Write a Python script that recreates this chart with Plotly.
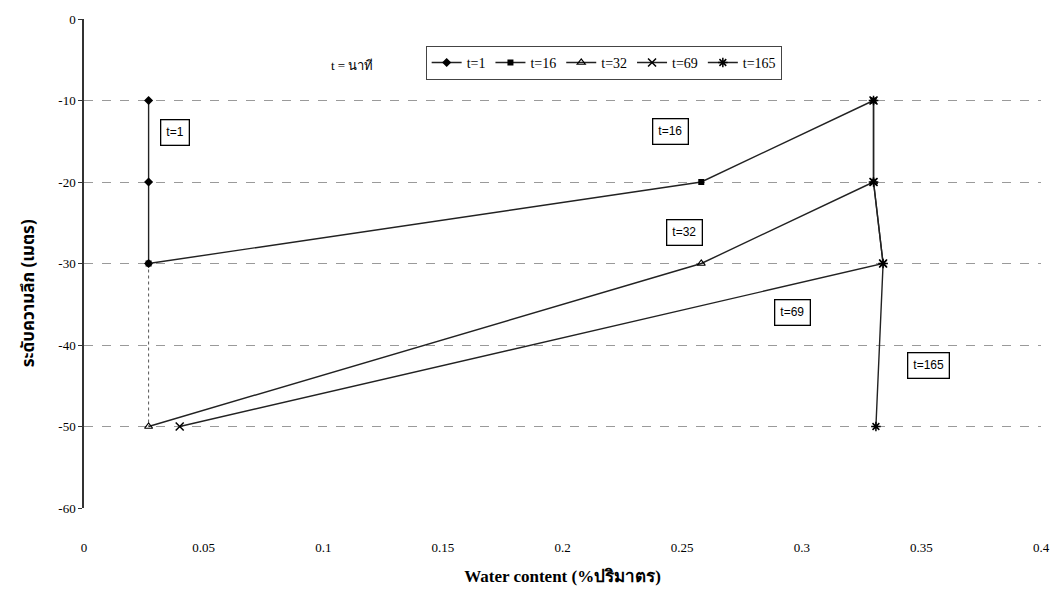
import plotly.graph_objects as go

# Depth profiles of water content at successive times (minutes)
depth_ticks = [0, -10, -20, -30, -40, -50, -60]
depth_labels = ["0", "-10", "-20", "-30", "-40", "-50", "-60"]
wc_ticks = [0, 0.05, 0.1, 0.15, 0.2, 0.25, 0.3, 0.35, 0.4]
wc_labels = ["0", "0.05", "0.1", "0.15", "0.2", "0.25", "0.3", "0.35", "0.4"]

t1_x = [0.027, 0.027, 0.027]
t1_y = [-10, -20, -30]
t16_x = [0.027, 0.258, 0.330]
t16_y = [-30, -20, -10]
t32_x = [0.027, 0.258, 0.330]
t32_y = [-50, -30, -20]
t69_x = [0.040, 0.334, 0.330, 0.330]
t69_y = [-50, -30, -20, -10]
t165_x = [0.330, 0.330, 0.334, 0.331]
t165_y = [-10, -20, -30, -50]
# faint connector below the t=1 profile
base_x = [0.027, 0.027]
base_y = [-30, -50]

serif = "Liberation Serif"
sans = "Liberation Sans"
thai = "Noto Sans Thai, Noto Serif Thai, Loma, Garuda, Noto Sans, DejaVu Sans"

fig = go.Figure()

fig.add_trace(go.Scatter(x=base_x, y=base_y, mode="lines", showlegend=False,
                         line=dict(color="#555555", width=1, dash="dot"), hoverinfo="skip"))

series = [
    ("t=1", t1_x, t1_y, dict(symbol="diamond", size=7, color="black")),
    ("t=16", t16_x, t16_y, dict(symbol="square", size=6, color="black")),
    ("t=32", t32_x, t32_y, dict(symbol="triangle-up-open", size=7, color="black",
                                line=dict(color="black", width=1.2))),
    ("t=69", t69_x, t69_y, dict(symbol="x-thin-open", size=8, color="black",
                                line=dict(color="black", width=1.5))),
    ("t=165", t165_x, t165_y, dict(symbol="asterisk-open", size=8, color="black",
                                   line=dict(color="black", width=1.5))),
]
for name, xs, ys, mk in series:
    fig.add_trace(go.Scatter(x=xs, y=ys, mode="lines+markers", name=name,
                             line=dict(color="#222222", width=1.4), marker=mk))

# boxed labels next to each profile
labels = [
    ("t=1", 0.038, -13.9),
    ("t=16", 0.245, -13.8),
    ("t=32", 0.251, -26.2),
    ("t=69", 0.296, -36.0),
    ("t=165", 0.353, -42.5),
]
for text, lx, ly in labels:
    fig.add_annotation(x=lx, y=ly, text=text, showarrow=False,
                       font=dict(family=sans, size=12, color="black"),
                       bordercolor="black", borderwidth=1.3, borderpad=5,
                       bgcolor="white")

fig.add_annotation(xref="paper", yref="paper", x=0.256, y=0.905, yanchor="middle",
                   text="t = นาที", showarrow=False,
                   font=dict(family=serif, size=13, color="black"))

# vertical axis title
fig.add_annotation(xref="paper", yref="paper", x=-0.058, y=0.44, textangle=-90,
                   xanchor="center", yanchor="middle",
                   text="<b>ระดับความลึก (เมตร)</b>", showarrow=False,
                   font=dict(family=thai, size=17, color="black"))

fig.update_layout(
    width=1062, height=598,
    margin=dict(l=84, r=17, t=14, b=90),
    plot_bgcolor="white", paper_bgcolor="white",
    showlegend=True,
    legend=dict(orientation="h", x=0.357, y=0.945, xanchor="left", yanchor="top",
                bordercolor="#444444", borderwidth=1, bgcolor="white",
                font=dict(family=serif, size=14, color="black"),
                itemwidth=30, tracegroupgap=0, traceorder="normal"),
    xaxis=dict(range=[0, 0.4], tickvals=wc_ticks, ticktext=wc_labels,
               showgrid=False, zeroline=False, showline=False, ticks="",
               ticklabelstandoff=30,
               tickfont=dict(family=serif, size=13, color="black"),
               title=dict(text="<b>Water content (%ปริมาตร)</b>", standoff=16,
                          font=dict(family=serif, size=17, color="black"))),
    yaxis=dict(range=[-60, 0], tickvals=depth_ticks, ticktext=depth_labels,
               showgrid=True, gridcolor="#9a9a9a", griddash="dash", gridwidth=1,
               zeroline=False, showline=True, linecolor="#333333", linewidth=1.5,
               ticks="outside", ticklen=4, tickcolor="#333333",
               tickfont=dict(family=serif, size=13, color="black")),
)

fig.write_html("out.html")
